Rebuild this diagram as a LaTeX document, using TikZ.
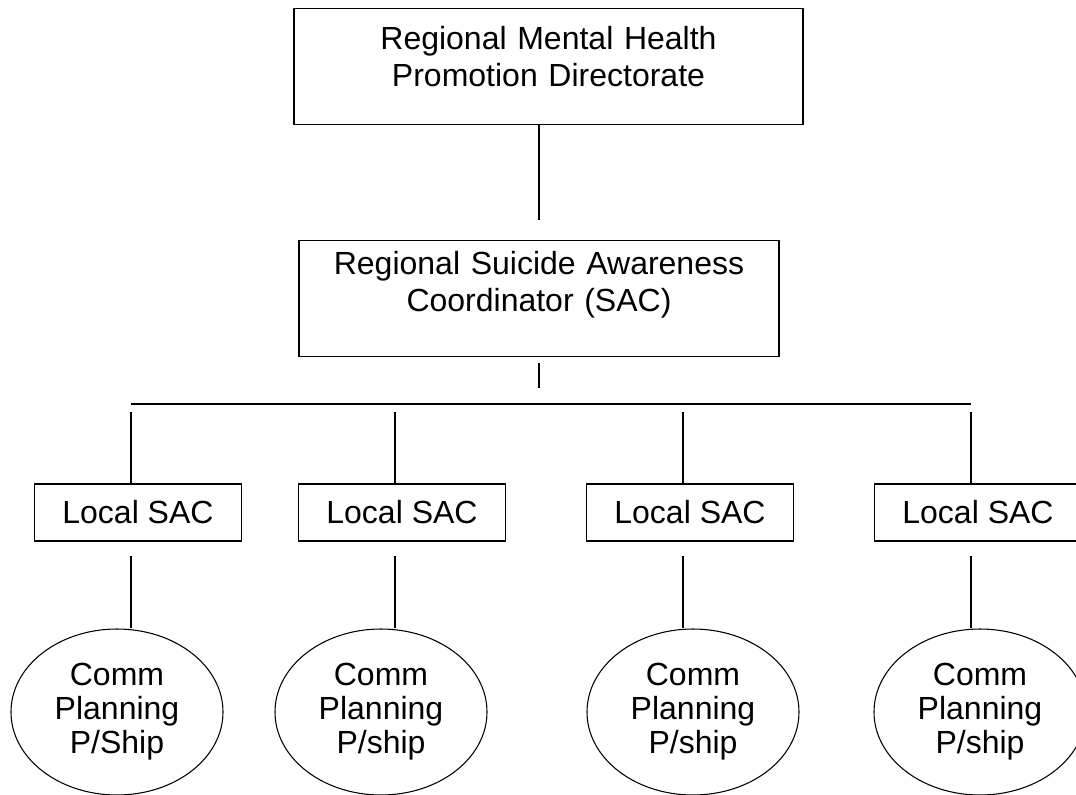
\documentclass[tikz,border=0pt]{standalone}
\usepackage{fontspec}
\setmainfont{Liberation Sans}
\usetikzlibrary{shapes.geometric, positioning}

\begin{document}
\begin{tikzpicture}[x=0.75pt, y=-0.75pt,
    every node/.style={font=\fontsize{24pt}{27.5pt}\selectfont},
    headbox/.style={draw, line width=1pt, inner sep=0pt, align=center, anchor=north},
    localbox/.style={draw, line width=0.9pt, inner sep=0pt, minimum width=155.25pt, minimum height=42.75pt},
    planning/.style={draw, ellipse, line width=0.8pt, inner sep=0pt, align=center, minimum width=159pt, minimum height=124.5pt,
        font=\fontsize{24pt}{25.5pt}\selectfont},
    link/.style={line width=0.85pt}]
        \useasboundingbox (0,0) rectangle (1076,794);
        \clip (0,0) rectangle (1076,794);

        % Directorate and regional coordinator
        \node[headbox, text width=381.75pt, text height=30.75pt, text depth=56.25pt] (directorate) at (548.5,8)
            {Regional Mental Health\\Promotion Directorate};
        \node[headbox, text width=360pt, text height=25.5pt, text depth=61.5pt] (coordinator) at (539,240)
            {Regional Suicide Awareness\\Coordinator (SAC)};

        % Link down to the coordinator (stops short of the box)
        \coordinate (dirend) at (539,220);
        \draw[link] (directorate.south -| dirend) -- (dirend);

        % Short stub and the bus to the local SACs
        \coordinate (sactop) at (539,363);
        \coordinate (sacend) at (539,388);
        \draw[link] (sactop) -- (sacend);
        \coordinate (busleft) at (131,404);
        \coordinate (busright) at (971,404);
        \draw[link] (busleft) -- (busright);

        % Local SACs
        \node[localbox] (local1) at (138,512.5) {Local SAC};
        \node[localbox] (local2) at (402,512.5) {Local SAC};
        \node[localbox] (local3) at (690,512.5) {Local SAC};
        \node[localbox] (local4) at (978,512.5) {Local SAC};

        % Community planning partnerships
        \node[planning] (comm1) at (117,712) {Comm\\Planning\\P/Ship};
        \node[planning] (comm2) at (381,712) {Comm\\Planning\\P/ship};
        \node[planning] (comm3) at (693,712) {Comm\\Planning\\P/ship};
        \node[planning] (comm4) at (980,712) {Comm\\Planning\\P/ship};

        % Drops from the bus to each local SAC
        \coordinate (drop1) at (131,412);
        \coordinate (drop2) at (395,412);
        \coordinate (drop3) at (683,412);
        \coordinate (drop4) at (971,412);
        \draw[link] (drop1) -- (drop1 |- local1.north);
        \draw[link] (drop2) -- (drop2 |- local2.north);
        \draw[link] (drop3) -- (drop3 |- local3.north);
        \draw[link] (drop4) -- (drop4 |- local4.north);

        % Local SAC down to its partnership
        \coordinate (lower1) at (131,556);
        \coordinate (lower2) at (395,556);
        \coordinate (lower3) at (683,556);
        \coordinate (lower4) at (971,556);
        \draw[link] (lower1) -- (lower1 |- comm1.north);
        \draw[link] (lower2) -- (lower2 |- comm2.north);
        \draw[link] (lower3) -- (lower3 |- comm3.north);
        \draw[link] (lower4) -- (lower4 |- comm4.north);
    \end{tikzpicture}
\end{document}
